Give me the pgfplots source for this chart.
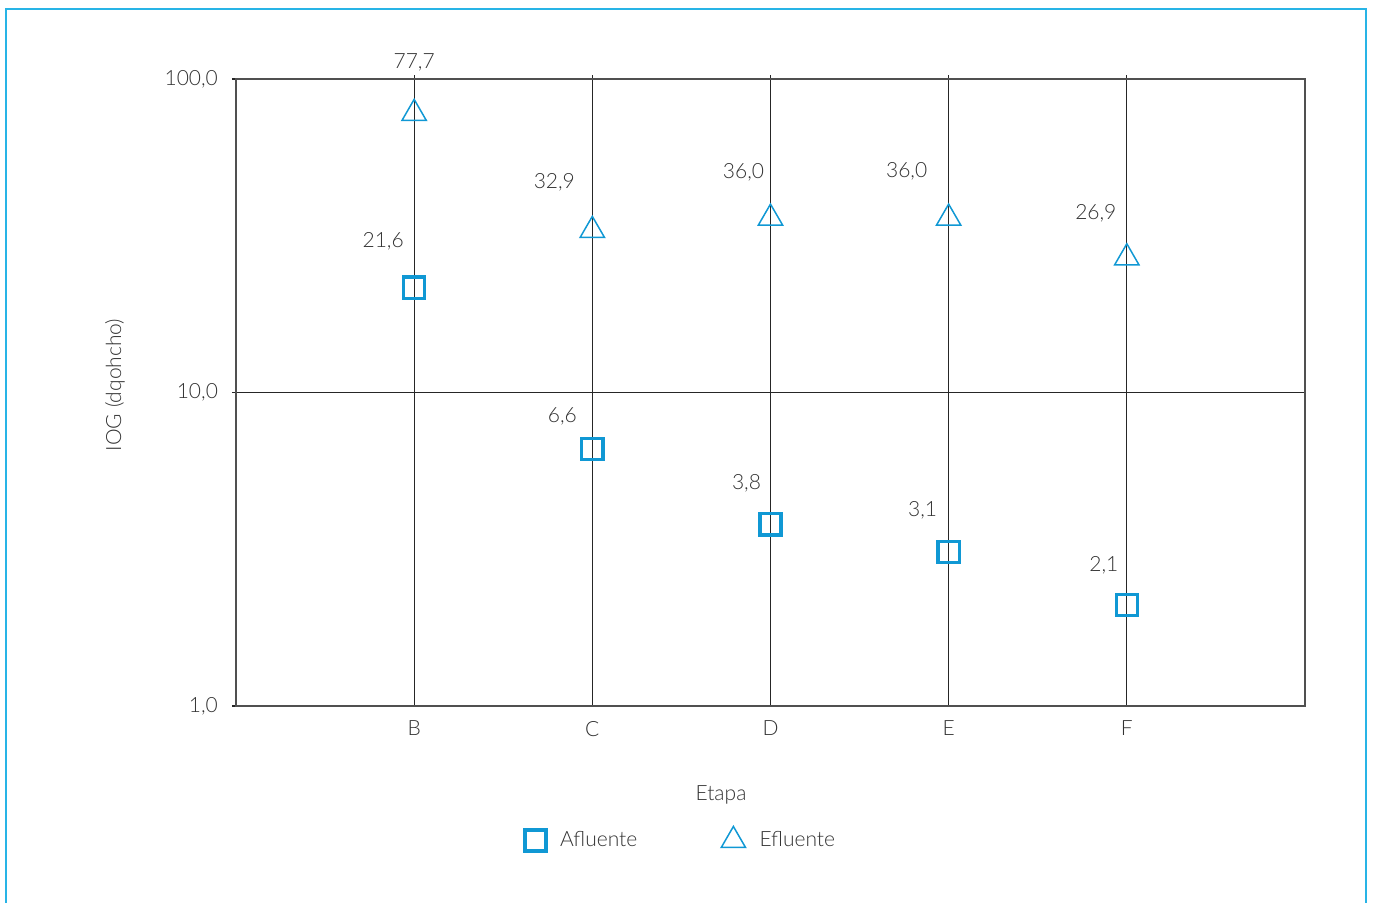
\documentclass[border=0pt]{standalone}
\usepackage{fontspec}
\setmainfont{Lato Light}
\usepackage{pgfplots}
\usepackage{pgfplotstable}
\pgfplotsset{compat=1.18}
\definecolor{mk}{RGB}{16,152,212}
\definecolor{frm}{RGB}{40,180,230}
\definecolor{txt}{RGB}{50,50,50}
\definecolor{axl}{RGB}{80,80,80}

% x  value  label  label offsets (pt)
\pgfplotstableread{
x y lab dx dy
1 21.6 21,6 -15.5 23
2 6.6 6,6 -15 16.5
3 3.8 3,8 -12 20.5
4 3.1 3,1 -13 21
5 2.1 2,1 -11.5 20
}\afluente
\pgfplotstableread{
x y lab dx dy
1 77.7 77,7 0 25.5
2 32.9 32,9 -19 24
3 36.0 36,0 -13.5 23
4 36.0 36,0 -21 23.5
5 26.9 26,9 -15.5 22
}\efluente

\begin{document}
\begin{tikzpicture}
\begin{axis}[
  at={(0,0)}, anchor=south west,
  scale only axis, width=534.5pt, height=313.5pt,
  ymode=log, ymin=1, ymax=100,
  xmin=0, xmax=6,
  xtick={1,2,3,4,5}, xticklabels={B,C,D,E,F},
  ytick={1,10,100}, yticklabels={1{,}0,10{,}0,100{,}0},
  yminorticks=false,
  xmajorgrids, ymajorgrids,
  grid style={draw=black!85, line width=0.6pt},
  axis line style={draw=axl, line width=0.7pt},
  xtick pos=upper, xticklabel pos=lower, xtick align=outside,
  ytick pos=left, ytick align=outside,
  major tick length=2pt,
  tick style={draw=black!85, line width=0.6pt},
  font=\fontsize{10.5}{12}\selectfont\color{txt},
  tick label style={font=\fontsize{10.5}{12}\selectfont\color{txt}},
  /pgf/number format/assume math mode=true,
  yticklabel style={xshift=-3.5pt},
  xticklabel style={yshift=-2pt},
  xlabel={Etapa},
  xlabel style={at={(rel axis cs:0.4537,0)}, anchor=center, yshift=-44.5pt},
  ylabel={IOG (dqohcho)},
  ylabel style={at={([xshift=-60.5pt]rel axis cs:0,0.512)}, anchor=center},
  legend columns=2,
  legend style={draw=none, fill=none, at={(rel axis cs:0.4172,0)}, anchor=center,
    yshift=-67pt, font=\fontsize{10.5}{12}\selectfont\color{txt},
    /tikz/every even column/.append style={column sep=40pt}},
  point meta=explicit symbolic,
  visualization depends on={\thisrow{dx} \as \dx},
  visualization depends on={\thisrow{dy} \as \dy},
  nodes near coords,
  nodes near coords style={anchor=center, inner sep=0pt, xshift=\dx pt, yshift=\dy pt,
    font=\fontsize{10.5}{12}\selectfont\color{txt}},
]
\addplot[only marks, mark=square, mark size=5.3pt, draw=mk, mark options={line width=1.7pt, draw=mk}]
  table[x=x, y=y, meta=lab] {\afluente};
\addlegendentry{\hspace{5pt}Afluente}
\addplot[only marks, mark=triangle, mark size=7pt, draw=mk, mark options={line width=0.75pt, draw=mk}]
  table[x=x, y=y, meta=lab] {\efluente};
\addlegendentry{\hspace{5pt}Efluente}
\end{axis}
\draw[frm, line width=1pt] (-114.75pt,-120pt) -- (-114.75pt,348.5pt) -- (565pt,348.5pt) -- (565pt,-120pt);
\pgfresetboundingbox
\useasboundingbox (-118pt,-98.5pt) rectangle (568.5pt,353pt);
\end{tikzpicture}
\end{document}
